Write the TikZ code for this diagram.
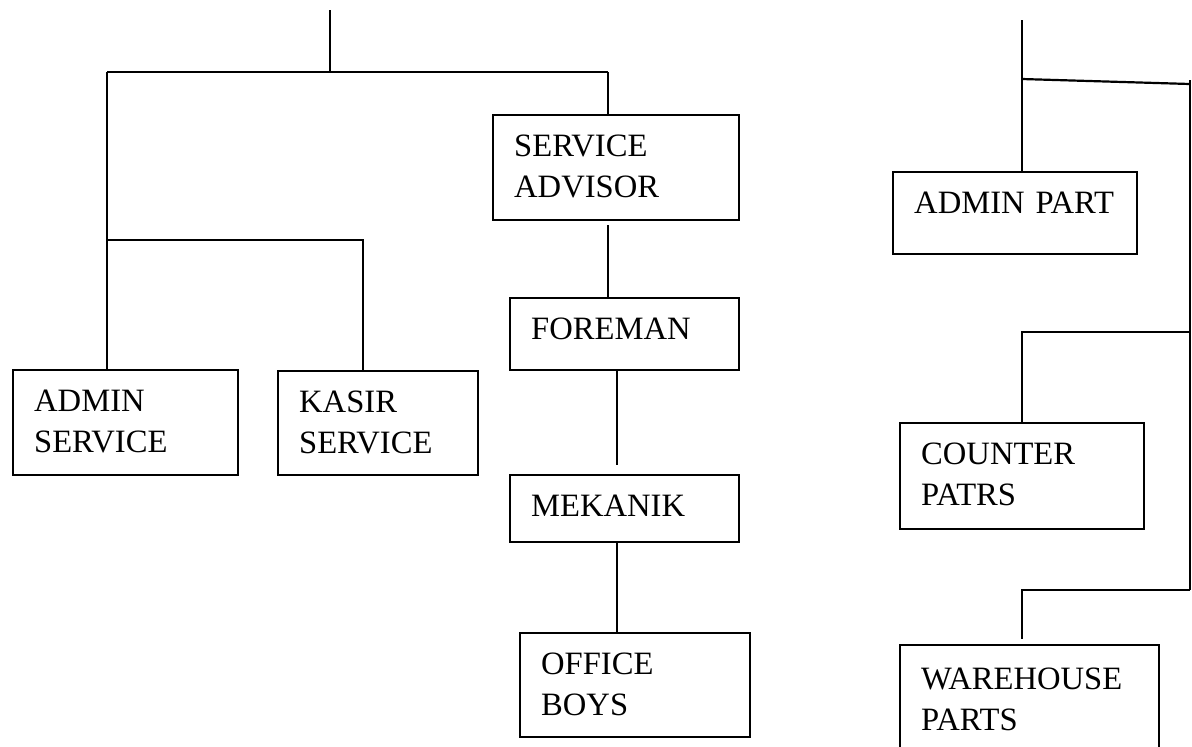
\documentclass[tikz,border=0pt]{standalone}
\usepackage{fontspec}
\setmainfont{Liberation Serif}
\usepackage{tikz}
\usetikzlibrary{calc}

\begin{document}
\begin{tikzpicture}[x=0.5pt, y=-0.5pt, every node/.style={font=\fontsize{16.3pt}{20.5pt}\selectfont}]
\tikzset{
  unit/.style={draw, line width=1.2pt, anchor=north west, align=left, inner xsep=10.5pt, inner ysep=0pt, text height=20.5pt},
  size/.style 2 args={unit, text width=#1, text depth=#2},
  link/.style={line width=1.1pt}
}
\clip (0,0) rectangle (1192,746);
\node[size={91.5pt}{32pt}] (adminsvc) at (12,369) {ADMIN\\SERVICE};
\node[size={79pt}{31.5pt}] (kasir) at (277,370) {KASIR\\SERVICE};
\node[size={102pt}{32pt}] (advisor) at (492,114) {SERVICE\\ADVISOR};
\node[size={93.5pt}{15.5pt}] (foreman) at (509,297) {FOREMAN};
\node[size={93.5pt}{13pt}] (mekanik) at (509,474) {MEKANIK};
\node[size={94pt}{31.5pt}] (office) at (519,632) {OFFICE\\BOYS};
\node[size={101pt}{20.5pt}] (adminpart) at (892,171) {ADMIN PART};
\node[size={101pt}{32.5pt}] (counter) at (899,422) {COUNTER\\PATRS};
\node[size={108.5pt}{60pt}, text height=22pt] (warehouse) at (899,644) {WAREHOUSE\\PARTS};
\coordinate (lroot) at (330,10);
\coordinate (lbar) at (330,72);
\coordinate (lleft) at (107,72);
\coordinate (lright) at (608,72);
\coordinate (lsub) at (107,240);
\coordinate (lsubr) at (363,240);
\coordinate (lmid) at (617,300);
\coordinate (rroot) at (1022,20);
\coordinate (rbar) at (1022,79);
\coordinate (rbarend) at (1190,84);
\coordinate (rtop) at (1190,80);
\coordinate (rcounter) at (1190,332);
\coordinate (rbot) at (1190,590);
\draw[link] (lroot) -- (lbar);
\draw[link] (lleft) -- (lright);
\draw[link] (lleft) -- (lleft |- adminsvc.north);
\draw[link] (lright) -- (lright |- advisor.north);
\draw[link] (lsub) -- (lsubr) -- (lsubr |- kasir.north);
\draw[link, shorten <=2pt] (lright |- advisor.south) -- (lright |- foreman.north);
\draw[link, shorten >=4.5pt] (lmid |- foreman.south) -- (lmid |- mekanik.north);
\draw[link] (lmid |- mekanik.south) -- (lmid |- office.north);
\draw[link] (rroot) -- (rroot |- adminpart.north);
\draw[link] (rbar) -- (rbarend);
\draw[link] (rtop) -- (rbot);
\draw[link] (rcounter) -- (rcounter -| rroot) -- (rroot |- counter.north);
\draw[link, shorten >=2.5pt] (rbot) -- (rbot -| rroot) -- (rroot |- warehouse.north);
\end{tikzpicture}
\end{document}
